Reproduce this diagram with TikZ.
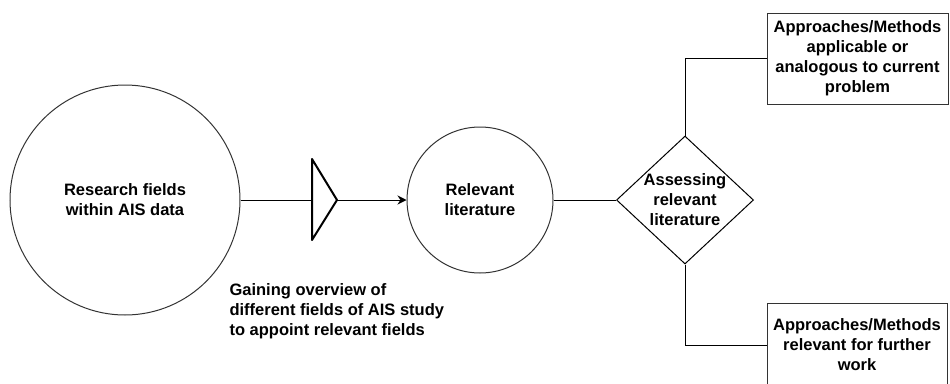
\documentclass[tikz,border=0pt]{standalone}
\usepackage{fontspec}
\setmainfont{Liberation Sans}
\usetikzlibrary{shapes.geometric,arrows.meta}
\tikzset{
  txt/.style={font=\fontsize{16.5}{20}\selectfont\bfseries, align=center},
  ring/.style={circle, draw=black!80, line width=1pt, inner sep=0pt},
  box/.style={rectangle, draw=black!80, line width=1pt, inner sep=0pt},
  link/.style={line width=1pt},
}
\begin{document}
\begin{tikzpicture}[x=1pt,y=-1pt]
\useasboundingbox (0,0) rectangle (950,383);
% circles
\node[ring,txt,minimum size=230] (fields) at (125,200) {Research fields\\within AIS data};
\node[ring,txt,minimum size=146] (lit) at (480,200) {Relevant\\literature};
% decision
\node[diamond,draw,line width=1pt,minimum width=137,minimum height=128,inner sep=0pt] (assess) at (685,200) {};
\node[txt] (assesstxt) at (assess.center) {Assessing\\relevant\\literature};
% outcomes
\node[box,txt,minimum width=181,minimum height=91] (applicable) at (857.5,58.5) {Approaches/Methods\\applicable or\\analogous to current\\problem};
\node[box,txt,minimum width=180,minimum height=84] (further) at (857,345) {Approaches/Methods\\relevant for further\\work};
\node[txt,align=left,anchor=north west] (overview) at (226,280) {Gaining overview of\\different fields of AIS study\\to appoint relevant fields};
% filter
\coordinate (filterin) at (312,200);
\coordinate (filtertip) at (337,200);
\draw[line width=2pt,line join=round] (312,159) -- (filtertip) -- (312,240) -- cycle;
\draw[link] (fields) -- (filterin);
\draw[link,-{Stealth[length=9pt,width=9pt]}] (filtertip) -- (lit);
\draw[link] (lit) -- (assess);
\draw[link] (assess.north) |- (applicable);
\draw[link] (assess.south) |- (further);
\end{tikzpicture}
\end{document}
